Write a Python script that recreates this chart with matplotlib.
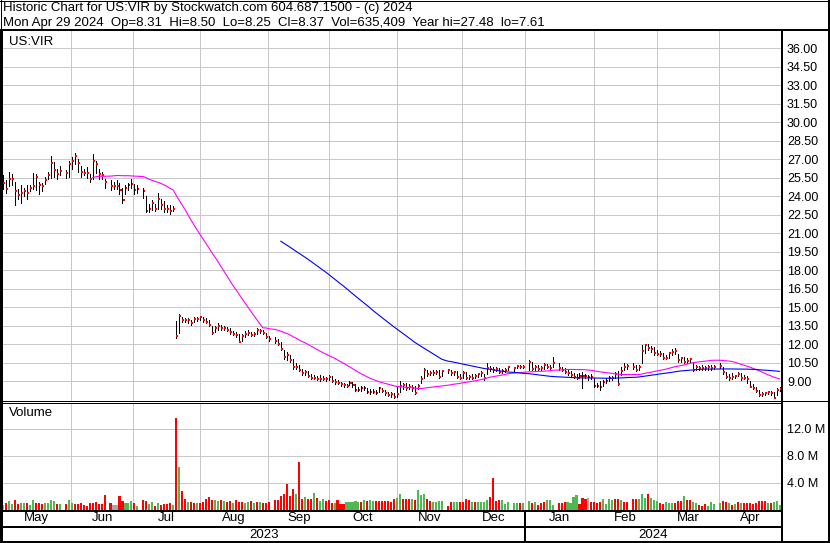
import numpy as np
import pandas as pd
import matplotlib
matplotlib.use('Agg')
import matplotlib.pyplot as plt
from matplotlib.lines import Line2D
import matplotlib.transforms as mtransforms

plt.rcParams['font.family'] = ['Liberation Sans', 'DejaVu Sans']

# ---------------- data ----------------
holidays = ['2023-05-29', '2023-06-19', '2023-07-04', '2023-09-04', '2023-11-23',
            '2023-12-25', '2024-01-01', '2024-01-15', '2024-02-19', '2024-03-29']

close = [
    # May 2023
    25.11, 24.60, 25.40, 25.40, 24.46, 24.10, 24.25, 24.40, 24.25, 24.70, 24.87, 25.60, 24.90, 24.87, 25.30, 25.70, 26.73, 26.10, 25.80, 26.06, 25.90, 26.60,
    # Jun
    26.90, 27.30, 26.70, 25.95, 25.90, 25.90, 25.40, 26.90, 26.60, 25.80, 25.70, 25.20, 24.87, 24.87, 24.87, 24.50, 23.70, 24.70, 24.90, 24.97, 24.50,
    # Jul
    24.60, 24.40, 22.84, 22.97, 23.50, 23.00, 23.80, 23.30, 23.00, 22.97, 22.84, 22.97, 12.70, 14.33, 13.97, 13.97, 13.97, 13.76, 14.05, 14.05,
    # Aug
    14.19, 13.97, 13.84, 13.57, 12.95, 13.35, 13.49, 13.30, 13.30, 13.16, 13.03, 12.84, 12.76, 12.22, 12.70, 12.81, 12.95, 12.76, 12.84, 13.16, 13.08, 12.89, 12.62,
    # Sep
    12.40, 12.30, 12.03, 11.60, 11.00, 11.14, 10.73, 10.19, 10.14, 9.92, 9.65, 9.78, 9.46, 9.24, 9.30, 9.19, 9.19, 9.19, 9.19, 9.38,
    # Oct
    9.03, 8.92, 8.84, 8.76, 8.70, 8.62, 8.84, 8.70, 8.30, 8.30, 8.49, 8.49, 8.16, 8.11, 8.16, 8.03, 8.43, 8.22, 8.03, 7.89, 7.95, 7.76,
    # Nov
    8.00, 8.64, 8.70, 8.48, 8.56, 8.48, 8.07, 8.64, 9.18, 9.91, 9.59, 9.64, 9.70, 9.78, 9.37, 9.83, 9.91, 9.64, 9.72, 9.32, 9.29,
    # Dec
    9.64, 9.24, 9.32, 9.29, 9.43, 9.56, 9.64, 9.24, 10.05, 10.00, 9.91, 10.00, 9.78, 9.83, 9.91, 10.13, 10.05, 10.26, 10.18, 10.18,
    # Jan 2024
    10.59, 10.00, 10.18, 9.97, 10.05, 10.32, 10.18, 10.10, 10.45, 10.05, 9.91, 9.78, 9.64, 9.51, 9.37, 9.29, 9.45, 9.43, 9.46, 9.32, 9.38,
    # Feb
    8.65, 8.62, 8.51, 8.97, 9.02, 9.24, 9.30, 9.57, 8.78, 9.84, 10.19, 10.27, 10.13, 9.92, 10.19, 11.48, 11.94, 11.67, 11.59, 11.27,
    # Mar
    11.21, 11.19, 10.86, 10.92, 11.27, 11.40, 11.46, 10.73, 10.86, 10.59, 10.67, 10.78, 9.92, 10.13, 10.10, 10.05, 10.05, 10.13, 10.05, 10.13,
    # Apr
    10.27, 9.73, 9.38, 9.24, 9.38, 9.46, 9.57, 9.24, 9.30, 9.16, 8.57, 8.43, 8.24, 7.89, 7.94, 8.02, 8.11, 8.02, 7.67, 8.30, 8.37,
]

high = [
    25.70, 25.30, 26.00, 25.80, 25.20, 24.60, 24.90, 24.70, 24.90, 24.90, 25.90, 25.80, 25.20, 25.10, 25.60, 26.00, 27.30, 26.80, 26.20, 26.50, 26.10, 26.90,
    27.20, 27.48, 27.00, 26.50, 26.20, 26.40, 25.80, 27.40, 26.90, 26.20, 26.00, 25.40, 25.30, 25.20, 25.30, 25.10, 24.70, 24.90, 25.10, 25.40, 25.00,
    24.90, 24.70, 24.00, 23.40, 23.70, 23.40, 24.30, 23.80, 23.60, 23.30, 23.30, 23.20, 13.90, 14.45, 14.20, 14.10, 14.15, 14.00, 14.20, 14.25,
    14.30, 14.25, 14.10, 13.95, 13.45, 13.50, 13.70, 13.55, 13.45, 13.40, 13.30, 13.10, 13.00, 12.80, 12.85, 13.05, 13.20, 13.00, 13.00, 13.30, 13.25, 13.15, 12.95,
    12.70, 12.60, 12.40, 12.20, 11.50, 11.40, 11.10, 10.80, 10.50, 10.30, 10.00, 9.95, 9.80, 9.60, 9.55, 9.40, 9.50, 9.40, 9.35, 9.50,
    9.40, 9.15, 9.10, 8.95, 8.90, 8.80, 9.05, 8.95, 8.75, 8.55, 8.60, 8.65, 8.45, 8.35, 8.40, 8.30, 8.55, 8.45, 8.30, 8.15, 8.10, 8.05,
    8.60, 9.00, 8.90, 8.85, 8.80, 8.70, 8.60, 8.80, 9.40, 10.05, 9.95, 9.85, 9.90, 9.95, 9.90, 9.95, 10.00, 9.95, 9.85, 9.80, 9.60,
    9.80, 9.75, 9.55, 9.60, 9.60, 9.70, 9.80, 9.60, 10.50, 10.25, 10.20, 10.15, 10.10, 10.00, 10.10, 10.25, 10.20, 10.35, 10.35, 10.30,
    10.70, 10.55, 10.35, 10.30, 10.25, 10.45, 10.40, 10.35, 10.95, 10.45, 10.15, 10.05, 9.95, 9.85, 9.70, 9.60, 9.65, 9.75, 9.60, 9.55, 9.60,
    9.30, 8.85, 9.00, 9.10, 9.25, 9.40, 9.45, 9.75, 9.85, 10.15, 10.50, 10.40, 10.45, 10.30, 10.35, 11.95, 12.05, 12.05, 11.85, 11.75,
    11.55, 11.45, 11.30, 11.15, 11.40, 11.60, 11.70, 11.20, 11.00, 10.95, 10.85, 10.90, 10.55, 10.30, 10.25, 10.30, 10.25, 10.30, 10.30, 10.35,
    10.45, 10.15, 9.75, 9.60, 9.65, 9.55, 9.75, 9.65, 9.50, 9.40, 9.05, 8.75, 8.55, 8.30, 8.15, 8.15, 8.20, 8.20, 8.10, 8.45, 8.50,
]

low = [
    24.60, 24.30, 24.80, 24.90, 23.30, 23.80, 23.50, 24.00, 23.80, 24.40, 24.60, 24.50, 24.20, 24.40, 25.00, 25.40, 25.50, 25.60, 25.40, 25.70, 25.50, 25.60,
    26.20, 26.60, 26.00, 25.60, 25.70, 25.50, 25.20, 25.40, 25.90, 25.40, 25.40, 24.70, 24.50, 24.60, 24.60, 24.20, 23.50, 24.20, 24.50, 24.70, 24.20,
    24.30, 23.90, 22.70, 22.70, 22.90, 22.80, 23.00, 23.00, 22.70, 22.70, 22.60, 22.80, 12.50, 12.90, 13.80, 13.80, 13.75, 13.60, 13.80, 13.85,
    13.95, 13.80, 13.70, 13.45, 12.85, 13.00, 13.20, 13.15, 13.15, 13.05, 12.85, 12.75, 12.60, 12.15, 12.30, 12.60, 12.75, 12.65, 12.70, 12.80, 12.90, 12.80, 12.55,
    12.30, 12.10, 11.95, 11.50, 10.80, 10.70, 10.60, 10.00, 10.00, 9.80, 9.55, 9.50, 9.35, 9.15, 9.15, 9.10, 9.05, 9.10, 9.05, 9.10,
    8.95, 8.80, 8.75, 8.60, 8.55, 8.50, 8.70, 8.55, 8.20, 8.20, 8.25, 8.30, 8.05, 8.00, 8.05, 7.95, 8.10, 8.10, 7.90, 7.80, 7.75, 7.61,
    7.70, 8.10, 8.40, 8.30, 8.35, 8.25, 8.00, 8.40, 8.90, 9.30, 9.45, 9.50, 9.55, 9.60, 9.30, 9.40, 9.70, 9.55, 9.55, 9.25, 9.20,
    9.30, 9.15, 9.20, 9.15, 9.25, 9.35, 9.45, 9.10, 9.60, 9.80, 9.75, 9.80, 9.70, 9.70, 9.75, 9.90, 9.85, 10.05, 10.05, 10.05,
    9.95, 9.90, 9.95, 9.90, 9.90, 10.00, 10.05, 10.00, 10.20, 9.95, 9.80, 9.70, 9.55, 9.45, 9.30, 9.20, 9.25, 8.45, 9.30, 9.10, 9.20,
    8.55, 8.50, 8.30, 8.60, 8.85, 9.00, 9.10, 9.30, 8.70, 9.50, 9.90, 10.00, 10.00, 9.85, 9.90, 10.45, 11.30, 11.50, 11.40, 11.15,
    11.10, 11.05, 10.80, 10.80, 10.90, 11.10, 11.20, 10.60, 10.60, 10.45, 10.50, 10.55, 9.80, 9.95, 9.95, 9.90, 9.95, 9.95, 9.95, 10.00,
    10.05, 9.60, 9.30, 9.10, 9.20, 9.25, 9.40, 9.10, 9.15, 8.90, 8.50, 8.35, 8.10, 7.80, 7.80, 7.85, 7.95, 7.90, 7.61, 7.85, 8.25,
]

# volume in millions of shares
volume_m = [
    0.64, 0.89, 1.28, 0.79, 1.38, 0.79, 0.89, 0.89, 0.89, 0.64, 1.38, 0.89, 0.89, 0.79, 0.89, 0.89, 1.38, 1.28, 0.79, 0.79, 0.79, 1.38,
    0.89, 0.79, 0.79, 0.99, 0.64, 0.49, 0.89, 0.99, 1.04, 0.79, 0.79, 2.12, 0.89, 0.64, 0.64, 1.97, 1.28, 0.89, 0.89, 1.23, 0.89,
    0.49, 1.38, 1.28, 0.79, 1.04, 0.49, 0.89, 0.64, 0.79, 0.79, 0.89, 0.64, 13.58, 6.32, 2.76, 1.53, 1.09, 1.09, 0.99, 0.99,
    0.89, 1.14, 1.53, 1.87, 1.38, 1.38, 1.28, 1.38, 1.28, 1.04, 1.23, 0.89, 1.38, 1.04, 1.04, 0.89, 1.14, 1.23, 0.89, 1.14, 1.09, 0.99, 0.99,
    1.04, 1.38, 1.48, 1.97, 2.27, 3.75, 1.97, 3.01, 2.37, 7.06, 1.53, 1.78, 1.53, 1.53, 2.47, 1.63, 1.28, 1.53, 1.28, 1.38,
    0.89, 0.99, 1.38, 0.79, 0.79, 1.04, 1.14, 1.14, 1.23, 1.14, 1.14, 1.38, 1.23, 1.48, 1.28, 1.23, 1.23, 1.23, 1.23, 1.23, 1.09, 1.53,
    1.73, 2.27, 1.53, 1.53, 1.53, 1.53, 1.38, 2.86, 2.12, 2.37, 1.53, 1.23, 1.14, 1.14, 1.23, 1.23, 0.49, 1.14, 1.04, 1.04, 1.09,
    1.09, 1.53, 1.38, 1.14, 1.14, 1.14, 1.14, 1.14, 1.38, 1.87, 4.69, 1.23, 1.48, 1.48, 0.79, 1.14, 0.89, 0.99, 0.89, 0.89,
    1.28, 0.99, 1.14, 0.64, 0.99, 1.14, 1.38, 1.48, 0.64, 0.99, 0.99, 1.14, 1.14, 0.99, 1.78, 2.12, 0.79, 1.63, 1.58, 1.63, 1.09,
    1.14, 0.99, 1.09, 1.53, 0.79, 1.53, 1.38, 1.53, 1.53, 1.38, 1.14, 1.14, 1.53, 1.53, 1.53, 2.37, 1.63, 2.37, 1.63, 1.38,
    1.28, 0.89, 0.79, 1.04, 0.99, 0.89, 0.89, 1.23, 1.23, 1.97, 1.38, 1.48, 1.04, 0.89, 0.74, 0.59, 0.79, 0.59, 1.09, 0.79,
    0.89, 1.23, 1.14, 0.99, 0.74, 0.79, 1.14, 0.89, 0.89, 0.89, 0.89, 0.79, 0.89, 1.23, 1.23, 1.23, 0.99, 0.99, 1.14, 1.23, 0.64,
]

# volume bar colour: r = down, g = up, n = unchanged (one string per month)
vol_dir_months = [
    "nrggrrggrggrrrggggrgrg",   # May
    "grrrrrrrrrrrrnnrrgggr",    # Jun
    "grrggrgrrrrgrgrrgrrg",     # Jul
    "rrrrrggrgrrgrrrggrgrgrr",  # Aug
    "rrrrrrrrgrrgrrgrggrr",     # Sep
    "rgrrrgggggrgrggrrrrrrr",   # Oct
    "ggrrrgrgggrrggggrrggr",    # Nov
    "rrrgrggggrrrrgggggrg",     # Dec
    "grgrrrgggrrrggggrrrnr",    # Jan
    "rrrggggrrgrrrrgggrgg",     # Feb
    "grrgggrrrgrrggrrrggg",     # Mar
    "grrgrgrgrrrrrrrrgrggg",    # Apr
]
vol_dir = "".join(vol_dir_months)

price_ticks = [9.0, 10.5, 12.0, 13.5, 15.0, 16.5, 18.0, 19.5, 21.0, 22.5, 24.0,
               25.5, 27.0, 28.5, 30.0, 31.5, 33.0, 34.5, 36.0]
vol_ticks_m = [4.0, 8.0, 12.0]
month_names = ['May', 'Jun', 'Jul', 'Aug', 'Sep', 'Oct', 'Nov', 'Dec',
               'Jan', 'Feb', 'Mar', 'Apr']
year_names = ['2023', '2024']

title1 = "Historic Chart for US:VIR by Stockwatch.com 604.687.1500 - (c) 2024"
title2 = ("Mon Apr 29 2024  Op=8.31  Hi=8.50  Lo=8.25  Cl=8.37  "
          "Vol=635,409  Year hi=27.48  lo=7.61")
symbol = "US:VIR"

# ---------------- positions ----------------
weekdays = pd.bdate_range('2023-05-01', '2024-04-29')
slot = pd.Series(np.arange(len(weekdays)), index=weekdays)
trade_days = weekdays[~weekdays.isin(pd.to_datetime(holidays))]
xpos = slot[trade_days].values.astype(float)
assert len(close) == len(high) == len(low) == len(volume_m) == len(vol_dir) == len(trade_days)

close_a = np.array(close)
s = pd.Series(close_a)
ma30 = s.rolling(30).mean().values
ma90 = s.rolling(90).mean().values

# month boundaries (fractional slot positions)
bounds = []
for m in pd.date_range('2023-06-01', '2024-04-01', freq='MS'):
    fw = weekdays[weekdays >= m][0]
    gap = (fw - m).days
    bounds.append(slot[fw] - 0.2 - 0.6 * gap)

# ---------------- figure ----------------
W, H = 830, 543
fig = plt.figure(figsize=(W / 100, H / 100), dpi=100)
fig.patch.set_facecolor('white')


def fx(px):
    return px / W


def fy(py):
    return 1 - py / H


def pline(xs, ys, lw=1.0, color='black'):
    fig.add_artist(Line2D([fx(v) for v in xs], [fy(v) for v in ys],
                          color=color, lw=lw * 0.72, transform=fig.transFigure,
                          solid_capstyle='butt', zorder=10, antialiased=False))


X0, X1 = 2.0, 781.5
PX_PER_BAR = 2.987
xlim = ((X0 - 3.0) / PX_PER_BAR, (X1 - 3.0) / PX_PER_BAR)

PX_PER_UNIT = 12.33
Y9 = 381.3
ptop, pbot = 30.5, 400.5
ylim_p = (9 - (pbot - Y9) / PX_PER_UNIT, 9 + (Y9 - ptop) / PX_PER_UNIT)

vtop, vbot = 402.5, 509.5
PX_PER_M = 6.75
ylim_v = (0, (vbot - vtop) / PX_PER_M)

grid_c = '#c8c8c8'
GRID_LW = 0.72

ax_p = fig.add_axes([fx(X0), fy(pbot), fx(X1) - fx(X0), fy(ptop) - fy(pbot)])
ax_v = fig.add_axes([fx(X0), fy(vbot), fx(X1) - fx(X0), fy(vtop) - fy(vbot)])

for ax in (ax_p, ax_v):
    ax.set_xlim(*xlim)
    for sp in ax.spines.values():
        sp.set_visible(False)
    ax.set_xticks([])
    ax.yaxis.tick_right()
    ax.tick_params(axis='y', length=0, pad=4, labelsize=9, colors='black')
    ax.set_axisbelow(True)
    for b in bounds:
        ax.axvline(b, color=grid_c, lw=GRID_LW, zorder=0, antialiased=False)

# price panel
ax_p.set_ylim(*ylim_p)
ax_p.set_yticks(price_ticks)
ax_p.set_yticklabels([f"{v:.2f}" for v in price_ticks])
for t in price_ticks:
    ax_p.axhline(t, color=grid_c, lw=GRID_LW, zorder=0, antialiased=False)

ax_p.vlines(xpos, low, high, colors='black', lw=0.72, zorder=3, antialiased=False)
ax_p.hlines(close_a, xpos + 0.05, xpos + 0.68, colors='#ff0000', lw=1.44, zorder=4,
            antialiased=False)
ax_p.plot(xpos, ma30, color='#ff00ff', lw=0.8, zorder=5)
ax_p.plot(xpos, ma90, color='#0000ff', lw=0.8, zorder=5)
ax_p.text(fx(9), fy(41.7), symbol, transform=fig.transFigure, fontsize=9.5,
          ha='left', va='center')

# volume panel
ax_v.set_ylim(*ylim_v)
ax_v.set_yticks(vol_ticks_m)
ax_v.set_yticklabels([f"{v:.1f} M" for v in vol_ticks_m])
for t in vol_ticks_m:
    ax_v.axhline(t, color=grid_c, lw=GRID_LW, zorder=0, antialiased=False)
cmap = {'r': '#ff0000', 'g': '#50b850', 'n': '#a8a8a8'}
ax_v.bar(xpos, volume_m, width=0.7, color=[cmap[c] for c in vol_dir],
         linewidth=0, zorder=3, antialiased=False)
ax_v.text(fx(9), fy(413), "Volume", transform=fig.transFigure, fontsize=9.5,
          ha='left', va='center')

# month and year labels
blend = mtransforms.blended_transform_factory(ax_v.transData, fig.transFigure)
edges = [xlim[0]] + bounds + [xlim[1]]
for k, name in enumerate(month_names):
    c = 0.5 * (edges[k] + edges[k + 1])
    fig.text(c, fy(518.3), name, transform=blend, fontsize=9.5,
             ha='center', va='center')
jan = bounds[7]
fig.text(0.5 * (xlim[0] + jan), fy(534.5), year_names[0], transform=blend,
         fontsize=9.5, ha='center', va='center')
fig.text(0.5 * (jan + xlim[1]), fy(534.5), year_names[1], transform=blend,
         fontsize=9.5, ha='center', va='center')

# titles
fig.text(fx(3), fy(8.5), title1, fontsize=9.5, ha='left', va='center')
fig.text(fx(3), fy(23.0), title2, fontsize=9.5, ha='left', va='center')

# frame lines (pixel coordinates)
jan_px = 3.0 + PX_PER_BAR * jan
pline([0, W], [0.5, 0.5], lw=1)
pline([0, W], [30.0, 30.0], lw=2)
pline([1.0, 1.0], [30, H], lw=2.5)
pline([0.5, 0.5], [0, H], lw=1)
pline([0, W], [400.5, 400.5], lw=1)
pline([0, X1], [402.5, 402.5], lw=1)
pline([0, X1 + 1], [510.5, 510.5], lw=2)
pline([0, X1 + 1], [526.7, 526.7], lw=2)
pline([0, W], [541.8, 541.8], lw=2)
pline([X1 + 0.5, X1 + 0.5], [30, H], lw=2)
pline([828.5, 828.5], [0, H], lw=2)
pline([jan_px, jan_px], [510.5, 541.8], lw=2)

fig.savefig('out.png', dpi=100, facecolor='white')
